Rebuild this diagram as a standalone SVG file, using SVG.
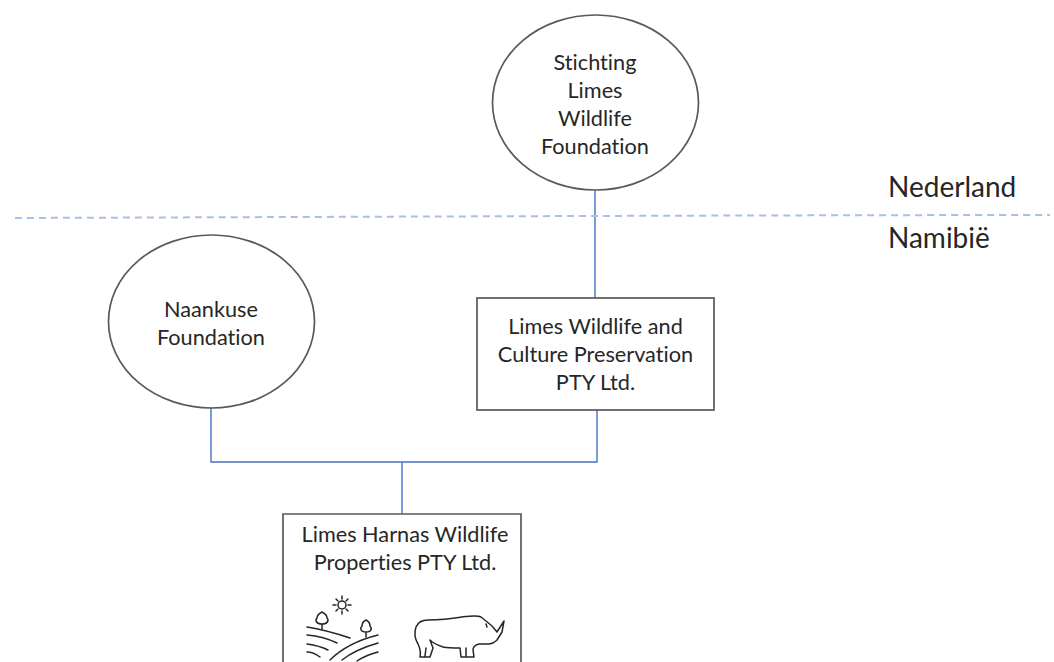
<svg xmlns="http://www.w3.org/2000/svg" width="1054" height="662" viewBox="0 0 1054 662">
<style>
text{font-family:"Lato","Liberation Sans",sans-serif;font-size:21.7px;fill:#262626;text-anchor:middle;font-variant-ligatures:none}
.big{font-size:28px;text-anchor:start}
.shape{fill:#fff;stroke:#595959;stroke-width:1.7}
.conn{fill:none;stroke:#4472c4;stroke-width:1.4}
.icon{fill:none;stroke:#262626;stroke-width:1.5;stroke-linecap:round;stroke-linejoin:round}
</style>
<rect width="1054" height="662" fill="#fff"/>
<g id="connectors">
<path class="conn" d="M595 190V298"/>
<path class="conn" d="M211 408V462H597V410"/>
<path class="conn" d="M402 462V514" stroke-width="1.8"/>
</g>
<path id="border" d="M15 218C300 217 800 215 1050 215" fill="none" stroke="#a9c0e6" stroke-width="2" stroke-dasharray="7 5"/>
<g id="stichting">
<ellipse class="shape" cx="595.500" cy="102.500" rx="103" ry="87.500"/>
<text x="595" y="70">Stichting</text>
<text x="595" y="98">Limes</text>
<text x="595" y="126">Wildlife</text>
<text x="595" y="154">Foundation</text>
</g>
<g id="naankuse">
<ellipse class="shape" cx="211.500" cy="321.500" rx="103" ry="86.500"/>
<text x="211" y="317">Naankuse</text>
<text x="211" y="345">Foundation</text>
</g>
<g id="limes-wildlife">
<rect class="shape" x="477" y="298" width="237" height="112"/>
<text x="595.500" y="334">Limes Wildlife and</text>
<text x="595.500" y="362">Culture Preservation</text>
<text x="595.500" y="390">PTY Ltd.</text>
</g>
<g id="limes-harnas">
<path class="shape" d="M283 662V514H521V662"/>
<text x="405" y="542">Limes Harnas Wildlife</text>
<text x="405" y="570">Properties PTY Ltd.</text>
<g id="landscape" class="icon">
<circle cx="342" cy="605" r="4"/>
<path d="M342 596v3M342 611v3M333 605h3M348 605h3M336 599l2 2M346 609l2 2M348 599l-2 2M338 609l-2 2"/>
<path d="M322 629V624M322 624c-6 0-7-4-5-6 0-3 3-5 5-6 2 1 5 3 5 6 2 2 1 6-5 6z"/>
<path d="M366 637V632M366 632c-6 0-6-4-4-6 0-3 2-5 4-6 2 1 4 3 4 6 2 2 2 6-4 6z"/>
<path d="M307 627c13 2 31 7 43 11"/>
<path d="M307 635c11 1 22 4 30 8"/>
<path d="M307 644c7 1 15 3 21 6"/>
<path d="M307 652c5 0 9 2 13 5"/>
<path d="M330 660c12-12 28-20 48-25"/>
<path d="M342 660c10-8 22-13 36-17"/>
<path d="M357 661c6-4 13-7 21-9"/>
</g>
<path id="rhino" class="icon" d="M420 657C421 652 420 648 418 644 415 639 414 633 416 627 418 622 422 620 428 620 438 620 450 619 462 617 470 616 477 615 481 617L486 621 492 626 497 632 504 621 502 632 497 640C494 643 491 644 488 644L479 644C475 645 473 647 473 650L474 657H461L460 648C454 648 448 648 443 647 437 645 433 643 430 640L433 648 430 657ZM425 656 426 648M466 656V648M486 624l1 3"/>
</g>
<g id="labels">
<text class="big" x="888" y="197">Nederland</text>
<text class="big" x="888" y="248">Namibië</text>
</g>
</svg>
